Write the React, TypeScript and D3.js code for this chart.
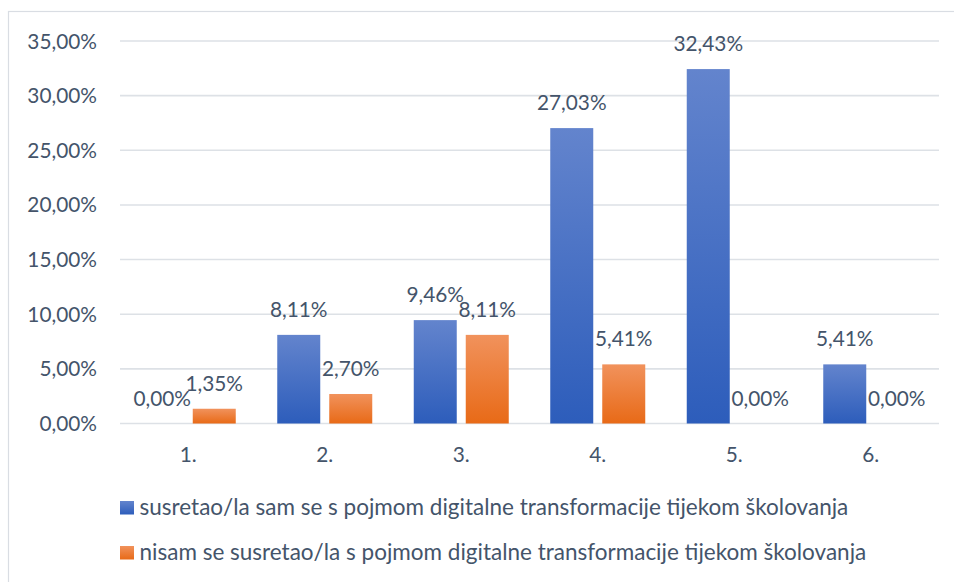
import React from "react";
import * as d3 from "d3";

const categories = ["1.", "2.", "3.", "4.", "5.", "6."];
const seriesNames = [
  "susretao/la sam se s pojmom digitalne transformacije tijekom školovanja",
  "nisam se susretao/la s pojmom digitalne transformacije tijekom školovanja",
];
const encountered = [0.0, 8.11, 9.46, 27.03, 32.43, 5.41];
const notEncountered = [1.35, 2.7, 8.11, 5.41, 0.0, 0.0];
const yTicks = [0, 5, 10, 15, 20, 25, 30, 35];

const W = 954;
const H = 582;
const FONT = "Lato, 'Open Sans', sans-serif";
const TEXT = "#44546A";

const fmt = (v: number) => v.toFixed(2).replace(".", ",") + "%";

export default function App() {
  const x = d3.scaleBand<string>().domain(categories).range([120, 939]);
  const y = d3.scaleLinear().domain([0, 35]).range([423.5, 41]);
  const bw = 43;
  const series = [encountered, notEncountered];
  const grads = [
    ["#6384CD", "#2D5DBB"],
    ["#F1925C", "#E86A17"],
  ];
  const offsets = [-26, 26];

  return (
    <svg
      width={W}
      height={H}
      style={{ position: "absolute", left: 0, top: 0, background: "#fff" }}
      fontFamily={FONT}
    >
      <defs>
        {grads.map((g, i) => (
          <linearGradient key={i} id={`g${i}`} x1="0" y1="0" x2="0" y2="1">
            <stop offset="0" stopColor={g[0]} />
            <stop offset="1" stopColor={g[1]} />
          </linearGradient>
        ))}
      </defs>
      <rect x={8.5} y={11.5} width={W + 20} height={H + 20} fill="#fff" stroke="#D9DDE3" strokeWidth={1.2} />
      {yTicks.map((t) => (
        <g key={t}>
          <line x1={120} x2={939} y1={y(t)} y2={y(t)} stroke="#DDE1E6" strokeWidth={1.6} />
          <text x={97} y={y(t) + 7.5} textAnchor="end" fontSize={20.8} fill={TEXT}>
            {fmt(t)}
          </text>
        </g>
      ))}
      {categories.map((c, ci) => {
        const cx = (x(c) as number) + x.bandwidth() / 2;
        return (
          <g key={c}>
            {series.map((s, si) => {
              const v = s[ci];
              const top = y(v);
              const bx = cx + offsets[si] - bw / 2;
              return (
                <g key={si}>
                  {v > 0 && (
                    <rect x={bx} y={top} width={bw} height={y(0) - top} fill={`url(#g${si})`} />
                  )}
                </g>
              );
            })}
            <text x={cx} y={461.5} textAnchor="middle" fontSize={20.8} fill={TEXT}>
              {c}
            </text>
          </g>
        );
      })}
      {categories.map((c, ci) => {
        const cx = (x(c) as number) + x.bandwidth() / 2;
        return series.map((s, si) => {
          const v = s[ci];
          return (
            <text
              key={`${ci}-${si}`}
              x={cx + offsets[si]}
              y={y(v) - 18}
              textAnchor="middle"
              fontSize={20.8}
              fill={TEXT}
            >
              {fmt(v)}
            </text>
          );
        });
      })}
      {seriesNames.map((n, i) => (
        <g key={i}>
          <rect x={120} y={501 + i * 45} width={14} height={13.5} fill={`url(#g${i})`} />
          <text x={139.5} y={515 + i * 45} fontSize={22.5} fill={TEXT}>
            {n}
          </text>
        </g>
      ))}
    </svg>
  );
}
